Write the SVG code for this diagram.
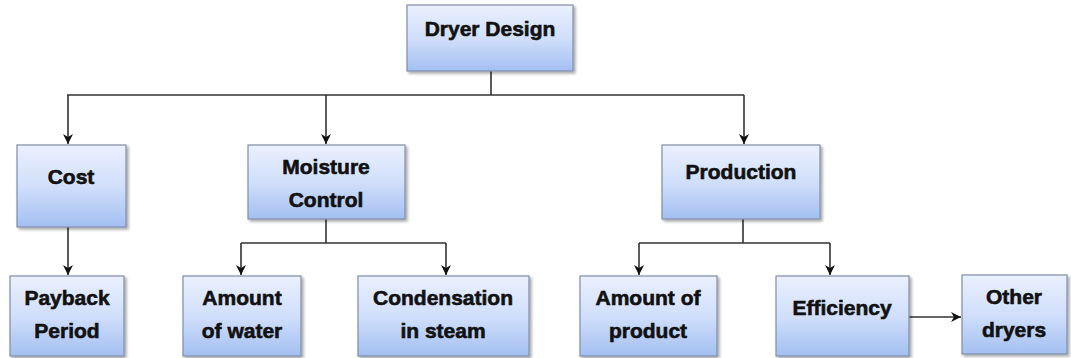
<svg xmlns="http://www.w3.org/2000/svg" width="1071" height="358" viewBox="0 0 1071 358">
<defs>
<linearGradient id="g" x1="0" y1="0" x2="0" y2="1">
<stop offset="0" stop-color="#eaf0fe"/>
<stop offset="0.5" stop-color="#d1dffb"/>
<stop offset="1" stop-color="#a3bff1"/>
</linearGradient>
<filter id="sh" x="-10%" y="-10%" width="130%" height="130%">
<feGaussianBlur in="SourceAlpha" stdDeviation="1.5"/>
<feOffset dx="1.5" dy="2" result="b"/>
<feComponentTransfer><feFuncA type="linear" slope="0.35"/></feComponentTransfer>
<feMerge><feMergeNode/><feMergeNode in="SourceGraphic"/></feMerge>
</filter>
<marker id="ah" markerWidth="12" markerHeight="12" refX="10" refY="6" orient="auto" markerUnits="userSpaceOnUse">
<path d="M0,1 L10,6 L0,11 L3,6 Z" fill="#111"/>
</marker>
</defs>
<style>
.box{fill:url(#g);stroke:#7d8ea8;stroke-width:1.2;filter:url(#sh)}
.t{font-family:"Liberation Sans",Arial,sans-serif;font-weight:bold;font-size:21px;fill:#111;stroke:#111;stroke-width:0.6;text-anchor:middle}
.c{fill:none;stroke:#333;stroke-width:1.6}
.a{marker-end:url(#ah)}
</style>
<rect width="1071" height="358" fill="#fff"/>
<g id="connectors">
<path class="c" d="M491,71 V95 M67,95 H744"/>
<path class="c a" d="M68,95 V144"/>
<path class="c a" d="M326,95 V144"/>
<path class="c a" d="M744,95 V144"/>
<path class="c a" d="M68,227 V275"/>
<path class="c" d="M326,219 V243 M241,243 H446"/>
<path class="c a" d="M241,243 V275"/>
<path class="c a" d="M446,243 V275"/>
<path class="c" d="M743,219 V243 M639,243 H830"/>
<path class="c a" d="M639,243 V275"/>
<path class="c a" d="M830,243 V275"/>
<path class="c a" d="M909,317 H961"/>
</g>
<g id="dryer-design"><rect class="box" x="407" y="5" width="166" height="66"/><text class="t" x="490" y="36">Dryer Design</text></g>
<g id="cost"><rect class="box" x="17" y="145" width="109" height="82"/><text class="t" x="71" y="184">Cost</text></g>
<g id="moisture-control"><rect class="box" x="248" y="145" width="157" height="74"/><text class="t" x="326" y="174">Moisture</text><text class="t" x="326" y="207">Control</text></g>
<g id="production"><rect class="box" x="662" y="145" width="158" height="74"/><text class="t" x="741" y="179">Production</text></g>
<g id="payback-period"><rect class="box" x="10" y="276" width="114" height="80"/><text class="t" x="67" y="305">Payback</text><text class="t" x="67" y="338">Period</text></g>
<g id="amount-of-water"><rect class="box" x="183" y="276" width="118" height="80"/><text class="t" x="242" y="305">Amount</text><text class="t" x="242" y="338">of water</text></g>
<g id="condensation-in-steam"><rect class="box" x="358" y="276" width="171" height="80"/><text class="t" x="443" y="305">Condensation</text><text class="t" x="443" y="338">in steam</text></g>
<g id="amount-of-product"><rect class="box" x="580" y="276" width="137" height="80"/><text class="t" x="648" y="305">Amount of</text><text class="t" x="648" y="338">product</text></g>
<g id="efficiency"><rect class="box" x="776" y="276" width="133" height="80"/><text class="t" x="842" y="315">Efficiency</text></g>
<g id="other-dryers"><rect class="box" x="962" y="275" width="105" height="79"/><text class="t" x="1014" y="304">Other</text><text class="t" x="1014" y="337">dryers</text></g>
</svg>
